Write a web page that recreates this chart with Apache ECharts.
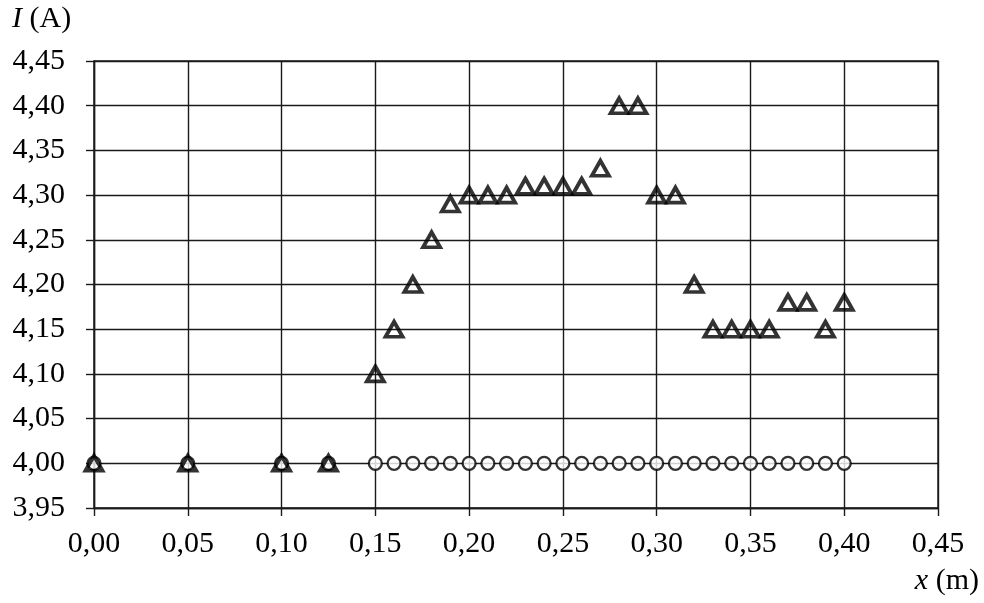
<!DOCTYPE html>
<html>
<head>
<meta charset="utf-8">
<script src="https://cdn.jsdelivr.net/npm/echarts@6/dist/echarts.min.js"></script>
<style>
	html, body { margin: 0; padding: 0; background: #fff; }
	#chart { width: 984px; height: 603px; }
</style>
</head>
<body>
<div id="chart"></div>
<script>
// measured current, triangles
let triX = [0, 0.05, 0.10, 0.125, 0.15, 0.16, 0.17, 0.18, 0.19, 0.20, 0.21, 0.22, 0.23, 0.24, 0.25, 0.26, 0.27, 0.28, 0.29, 0.30, 0.31, 0.32, 0.33, 0.34, 0.35, 0.36, 0.37, 0.38, 0.39, 0.40];
let triY = [4.00, 4.00, 4.00, 4.00, 4.10, 4.15, 4.20, 4.25, 4.29, 4.30, 4.30, 4.30, 4.31, 4.31, 4.31, 4.31, 4.33, 4.40, 4.40, 4.30, 4.30, 4.20, 4.15, 4.15, 4.15, 4.15, 4.18, 4.18, 4.15, 4.18];
// reference current, circles
let circX = [0, 0.05, 0.10, 0.125, 0.15, 0.16, 0.17, 0.18, 0.19, 0.20, 0.21, 0.22, 0.23, 0.24, 0.25, 0.26, 0.27, 0.28, 0.29, 0.30, 0.31, 0.32, 0.33, 0.34, 0.35, 0.36, 0.37, 0.38, 0.39, 0.40];
let circY = [4.00, 4.00, 4.00, 4.00, 4.00, 4.00, 4.00, 4.00, 4.00, 4.00, 4.00, 4.00, 4.00, 4.00, 4.00, 4.00, 4.00, 4.00, 4.00, 4.00, 4.00, 4.00, 4.00, 4.00, 4.00, 4.00, 4.00, 4.00, 4.00, 4.00];

let font = '"Liberation Serif", "Times New Roman", serif';
let comma = (v) => v.toFixed(2).replace('.', ',');
let zip = (xs, ys) => xs.map((x, i) => [x, ys[i]]);

let chart = echarts.init(document.getElementById('chart'));
chart.setOption({
	animation: false,
	backgroundColor: '#fff',
	grid: {left: 94, right: 46, top: 61, bottom: 95},
	xAxis: {
		type: 'value',
		min: 0,
		max: 0.45,
		interval: 0.05,
		axisLine: {onZero: false, lineStyle: {color: '#1a1a1a', width: 1.4}},
		axisTick: {show: true, length: 8, inside: false, lineStyle: {color: '#1a1a1a', width: 1.4}},
		splitLine: {show: true, lineStyle: {color: '#1a1a1a', width: 1.4}},
		axisLabel: {formatter: comma, color: '#000', fontFamily: font, fontSize: 30, margin: 21},
	},
	yAxis: {
		type: 'value',
		min: 3.95,
		max: 4.45,
		interval: 0.05,
		axisLine: {show: true, onZero: false, lineStyle: {color: '#1a1a1a', width: 1.4}},
		axisTick: {show: true, length: 8, inside: false, lineStyle: {color: '#1a1a1a', width: 1.4}},
		splitLine: {show: true, lineStyle: {color: '#1a1a1a', width: 1.4}},
		axisLabel: {formatter: comma, color: '#000', fontFamily: font, fontSize: 30, margin: 29},
	},
	graphic: [
		{
			type: 'rect',
			shape: {x: 94, y: 61, width: 844, height: 447},
			style: {fill: 'none', stroke: '#1a1a1a', lineWidth: 1.4},
			silent: true,
			z: 0,
		},
		{
			type: 'text',
			left: 12,
			top: 4,
			style: {
				text: '{i|I} (A)',
				fill: '#000',
				font: '30px ' + font,
				rich: {i: {fontStyle: 'italic', fontFamily: font, fontSize: 30}},
			},
		},
		{
			type: 'text',
			right: 5,
			top: 566,
			style: {
				text: '{i|x} (m)',
				fill: '#000',
				font: '30px ' + font,
				rich: {i: {fontStyle: 'italic', fontFamily: font, fontSize: 30}},
			},
		},
	],
	series: [
		{
			type: 'scatter',
			data: zip(circX, circY),
			symbol: 'circle',
			symbolSize: 13,
			itemStyle: {color: '#fff', borderColor: '#000', borderWidth: 2.3},
			z: 3,
		},
		{
			type: 'scatter',
			data: zip(triX, triY),
			symbol: 'triangle',
			symbolSize: [17, 15],
			itemStyle: {color: 'rgba(255,255,255,0)', borderColor: '#000', borderWidth: 3.8},
			z: 4,
		},
	],
});
</script>
</body>
</html>
